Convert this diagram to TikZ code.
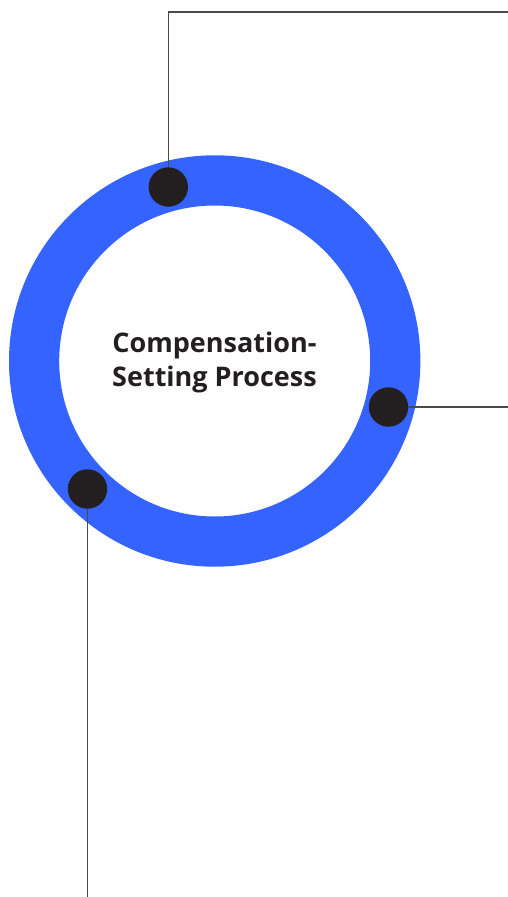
\documentclass[tikz,border=0pt]{standalone}
\usepackage{fontspec}
\setmainfont{Open Sans}
\definecolor{ringblue}{HTML}{3563FF}
\definecolor{dotdark}{HTML}{231F20}
\definecolor{leader}{HTML}{4A4A4A}
\begin{document}
\begin{tikzpicture}[x=1pt,y=-1pt,
  marker/.style={circle,fill=dotdark,minimum size=39.4pt,inner sep=0pt},
  leaderline/.style={draw=leader,line width=1.2pt},
  title/.style={font=\fontsize{27}{28}\selectfont\bfseries,text=dotdark,anchor=base,inner sep=0pt}]
  \useasboundingbox (0,0) rectangle (508,897);
  % ring
  \coordinate (c) at (214.7,361);
  \fill[ringblue,even odd rule] (c) circle[radius=205.7] (c) circle[radius=155.5];
  % markers on the ring
  \node[marker] (dotA) at (168.3,187) {};
  \node[marker] (dotB) at (388.5,407) {};
  \node[marker] (dotC) at (87.5,489) {};
  % leader end points
  \coordinate (endA) at (508,12);
  \coordinate (endB) at (508,407);
  \coordinate (endC) at (87.5,897);
  \draw[leaderline] (dotA.north) |- (endA);
  \draw[leaderline] (dotB.east) -- (endB);
  \draw[leaderline] (dotC.south) -- (endC);
  % centre title
  \node[title] (t1) at (214.5,352.5) {Compensation-};
  \node[title] (t2) at (214.5,386.5) {Setting Process};
\end{tikzpicture}
\end{document}
